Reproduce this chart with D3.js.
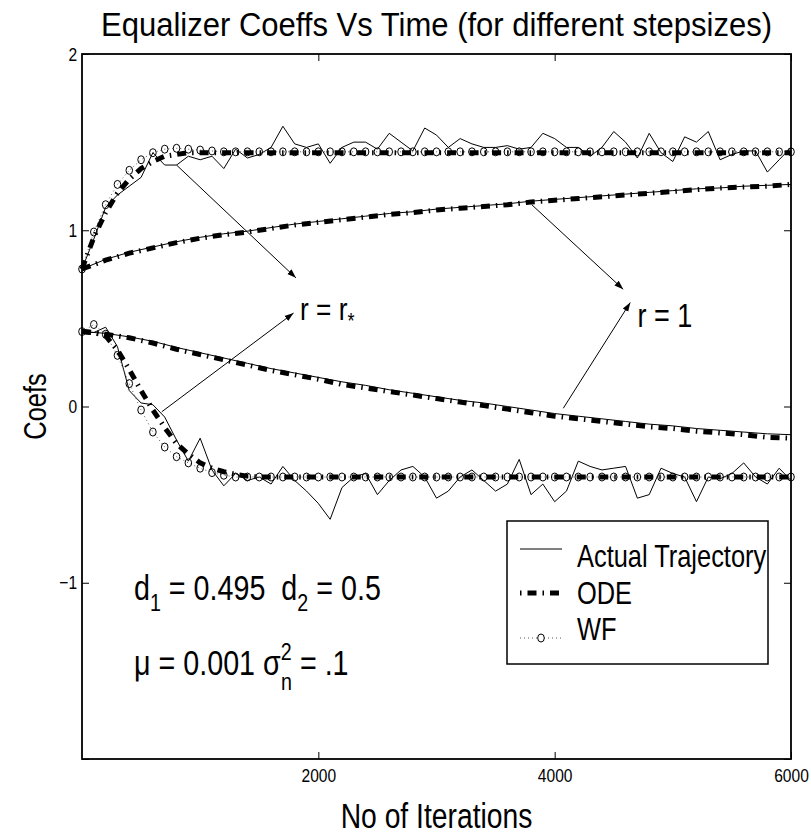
<!DOCTYPE html>
<html>
  <head>
    <meta charset="utf-8">
    <title>Equalizer Coeffs Vs Time</title>
    <style>
      body { margin: 0; background: #fff; }
      svg text { font-family: "Liberation Sans", Arial, sans-serif; fill: #000; }
    </style>
  </head>
  <body>
    <div id="chart"></div>
    <script src="https://cdn.jsdelivr.net/npm/d3@7"></script>
    <script>
    // iteration grid: fast curves every 100, slow curves every 200
    var iters = d3.range(0, 6001, 100);
    var slowIters = d3.range(0, 6001, 200);

    // r = r* (fast step), upper coefficient
    var fastUpActual = [0.78, 0.95, 1.13, 1.20, 1.25, 1.30, 1.44, 1.37, 1.37, 1.42, 1.40,
                        1.42, 1.35, 1.46, 1.41, 1.43, 1.47, 1.59, 1.49, 1.47, 1.49,
                        1.38, 1.47, 1.50, 1.50, 1.46, 1.55, 1.50, 1.45, 1.58, 1.54,
                        1.47, 1.52, 1.49, 1.47, 1.47, 1.48, 1.46, 1.47, 1.55, 1.52,
                        1.47, 1.47, 1.42, 1.47, 1.56, 1.50, 1.41, 1.55, 1.44, 1.39,
                        1.53, 1.50, 1.56, 1.40, 1.43, 1.45, 1.45, 1.33, 1.40, 1.47];
    var fastUpODE = [0.78, 0.96, 1.10, 1.21, 1.29, 1.35, 1.39, 1.42, 1.43, 1.44, 1.44,
                     1.44, 1.44, 1.44, 1.44, 1.44, 1.44, 1.44, 1.44, 1.44, 1.44,
                     1.44, 1.44, 1.44, 1.44, 1.44, 1.44, 1.44, 1.44, 1.44, 1.44,
                     1.44, 1.44, 1.44, 1.44, 1.44, 1.44, 1.44, 1.44, 1.44, 1.44,
                     1.44, 1.44, 1.44, 1.44, 1.44, 1.44, 1.44, 1.44, 1.44, 1.44,
                     1.44, 1.44, 1.44, 1.44, 1.44, 1.44, 1.44, 1.44, 1.44, 1.44];
    var fastUpWF = [0.78, 0.99, 1.145, 1.26, 1.34, 1.40, 1.44, 1.46, 1.465, 1.46, 1.455,
                    1.45, 1.445, 1.445, 1.445, 1.445, 1.445, 1.445, 1.445, 1.445, 1.445,
                    1.445, 1.445, 1.445, 1.445, 1.445, 1.445, 1.445, 1.445, 1.445, 1.445,
                    1.445, 1.445, 1.445, 1.445, 1.445, 1.445, 1.445, 1.445, 1.445, 1.445,
                    1.445, 1.445, 1.445, 1.445, 1.445, 1.445, 1.445, 1.445, 1.445, 1.445,
                    1.445, 1.445, 1.445, 1.445, 1.445, 1.445, 1.445, 1.445, 1.445, 1.445];

    // r = r* (fast step), lower coefficient
    var fastLoActual = [0.425, 0.42, 0.45, 0.34, 0.09, 0.02, 0.01, -0.06, -0.19, -0.31, -0.18,
                        -0.36, -0.45, -0.38, -0.42, -0.40, -0.44, -0.34, -0.42, -0.48, -0.55,
                        -0.64, -0.46, -0.40, -0.38, -0.50, -0.42, -0.36, -0.34, -0.40, -0.52,
                        -0.48, -0.40, -0.36, -0.42, -0.48, -0.44, -0.30, -0.50, -0.44, -0.54,
                        -0.48, -0.31, -0.34, -0.36, -0.35, -0.34, -0.52, -0.50, -0.35, -0.38,
                        -0.40, -0.54, -0.40, -0.41, -0.38, -0.32, -0.40, -0.44, -0.35, -0.42];
    var fastLoODE = [0.425, 0.42, 0.40, 0.32, 0.21, 0.09, -0.02, -0.12, -0.21, -0.27, -0.32,
                     -0.35, -0.37, -0.385, -0.395, -0.40, -0.40, -0.40, -0.40, -0.40, -0.40,
                     -0.40, -0.40, -0.40, -0.40, -0.40, -0.40, -0.40, -0.40, -0.40, -0.40,
                     -0.40, -0.40, -0.40, -0.40, -0.40, -0.40, -0.40, -0.40, -0.40, -0.40,
                     -0.40, -0.40, -0.40, -0.40, -0.40, -0.40, -0.40, -0.40, -0.40, -0.40,
                     -0.40, -0.40, -0.40, -0.40, -0.40, -0.40, -0.40, -0.40, -0.40, -0.40];
    var fastLoWF = [0.425, 0.465, 0.41, 0.29, 0.13, -0.02, -0.145, -0.23, -0.285, -0.32, -0.35,
                    -0.375, -0.39, -0.40, -0.40, -0.40, -0.40, -0.40, -0.40, -0.40, -0.40,
                    -0.40, -0.40, -0.40, -0.40, -0.40, -0.40, -0.40, -0.40, -0.40, -0.40,
                    -0.40, -0.40, -0.40, -0.40, -0.40, -0.40, -0.40, -0.40, -0.40, -0.40,
                    -0.40, -0.40, -0.40, -0.40, -0.40, -0.40, -0.40, -0.40, -0.40, -0.40,
                    -0.40, -0.40, -0.40, -0.40, -0.40, -0.40, -0.40, -0.40, -0.40, -0.40];

    // r = 1 (slow step)
    var slowUpODE = [0.78, 0.83, 0.87, 0.90, 0.93, 0.955, 0.975, 0.99, 1.01, 1.03, 1.045,
                     1.06, 1.075, 1.09, 1.10, 1.115, 1.125, 1.135, 1.145, 1.16, 1.17,
                     1.18, 1.19, 1.20, 1.21, 1.22, 1.23, 1.24, 1.245, 1.25, 1.26];
    var slowUpActual = [0.78, 0.835, 0.875, 0.905, 0.935, 0.96, 0.98, 0.995, 1.015, 1.035, 1.05,
                        1.065, 1.08, 1.095, 1.105, 1.12, 1.13, 1.14, 1.15, 1.165, 1.175,
                        1.185, 1.195, 1.205, 1.215, 1.225, 1.235, 1.24, 1.25, 1.255, 1.26];
    var slowLoODE = [0.425, 0.41, 0.39, 0.36, 0.325, 0.295, 0.265, 0.235, 0.205, 0.18, 0.155,
                     0.125, 0.105, 0.085, 0.065, 0.045, 0.025, 0.005, -0.015, -0.035, -0.055,
                     -0.07, -0.085, -0.10, -0.115, -0.125, -0.14, -0.15, -0.16, -0.175, -0.18];
    var slowLoActual = [0.425, 0.415, 0.395, 0.37, 0.335, 0.305, 0.275, 0.245, 0.215, 0.19, 0.165,
                        0.14, 0.12, 0.095, 0.075, 0.055, 0.035, 0.02, 0.0, -0.02, -0.04,
                        -0.055, -0.07, -0.085, -0.10, -0.11, -0.125, -0.135, -0.145, -0.155, -0.16];

    var xTicks = [2000, 4000, 6000];
    var yTicks = [-2, -1, 0, 1, 2];
    var yTickLabels = ["", "\u22121", "0", "1", "2"];
    var legendNames = ["Actual Trajectory", "ODE", "WF"];

    // arrows: [x0, y0, x1, y1] in data units
    var arrows = [
      [800, 1.37, 1810, 0.73],
      [675, -0.03, 1790, 0.53],
      [3806, 1.145, 4580, 0.665],
      [4073, -0.01, 4640, 0.59]
    ];

    var width = 811, height = 838;
    var margin = {top: 54, right: 20, bottom: 79, left: 82};
    var squeeze = 0.82;   // the picture's lettering is narrow

    var svg = d3.select("#chart").append("svg")
        .attr("width", width)
        .attr("height", height);

    var x = d3.scaleLinear().domain([0, 6000]).range([margin.left, width - margin.right]);
    var y = d3.scaleLinear().domain([-2, 2]).range([height - margin.bottom, margin.top]);

    svg.append("defs").append("marker")
        .attr("id", "head")
        .attr("viewBox", "0 0 10 10")
        .attr("refX", 10).attr("refY", 5)
        .attr("markerWidth", 9).attr("markerHeight", 9)
        .attr("markerUnits", "userSpaceOnUse")
        .attr("orient", "auto")
      .append("path")
        .attr("d", "M0,1.5L10,5L0,8.5z")
        .attr("fill", "#000");

    // narrow text placed at (px, py)
    function ntext(px, py, size, anchor, sq) {
      return svg.append("g")
          .attr("transform", "translate(" + px + "," + py + ") scale(" + (sq || squeeze) + ",1)")
        .append("text")
          .attr("font-size", size)
          .attr("text-anchor", anchor || "start")
          .attr("xml:space", "preserve");
    }

    var line = d3.line()
        .x(function(d) { return x(d[0]); })
        .y(function(d) { return y(d[1]); });

    function pairs(xs, ys) { return xs.map(function(v, i) { return [v, ys[i]]; }); }

    function drawActual(xs, ys) {
      svg.append("path").datum(pairs(xs, ys))
          .attr("d", line).attr("fill", "none")
          .attr("stroke", "#000").attr("stroke-width", 1);
    }
    function drawODE(xs, ys) {
      svg.append("path").datum(pairs(xs, ys))
          .attr("d", line).attr("fill", "none")
          .attr("stroke", "#000").attr("stroke-width", 5)
          .attr("stroke-dasharray", "9,6,1.5,6");
    }
    function drawWF(xs, ys) {
      var pts = pairs(xs, ys);
      svg.append("path").datum(pts)
          .attr("d", line).attr("fill", "none")
          .attr("stroke", "#555").attr("stroke-width", 1)
          .attr("stroke-dasharray", "1,3");
      svg.append("g").selectAll("ellipse").data(pts).join("ellipse")
          .attr("cx", function(d) { return x(d[0]); })
          .attr("cy", function(d) { return y(d[1]); })
          .attr("rx", 3.3).attr("ry", 4)
          .attr("fill", "none").attr("stroke", "#000").attr("stroke-width", 1);
    }

    // curves
    drawActual(iters, fastUpActual);
    drawActual(iters, fastLoActual);
    drawActual(slowIters, slowUpActual);
    drawActual(slowIters, slowLoActual);
    drawWF(iters, fastUpWF);
    drawWF(iters, fastLoWF);
    drawODE(iters, fastUpODE);
    drawODE(iters, fastLoODE);
    drawODE(slowIters, slowUpODE);
    drawODE(slowIters, slowLoODE);

    // axes box
    svg.append("rect")
        .attr("x", x(0)).attr("y", y(2))
        .attr("width", x(6000) - x(0)).attr("height", y(-2) - y(2))
        .attr("fill", "none").attr("stroke", "#000").attr("stroke-width", 1.8);

    var xAxis = d3.axisBottom(x).tickValues(xTicks).tickSizeInner(-7).tickSizeOuter(0)
        .tickPadding(10).tickFormat(d3.format("d"));
    var gx = svg.append("g").attr("transform", "translate(0," + y(-2) + ")").call(xAxis);
    gx.select(".domain").remove();
    gx.selectAll("text").attr("font-size", 19).style("font-family", null)
        .attr("transform", "scale(" + squeeze + ",1)");

    svg.append("g").attr("transform", "translate(0," + y(2) + ")")
        .call(d3.axisTop(x).tickValues(xTicks).tickSizeInner(-7).tickSizeOuter(0).tickFormat(""))
        .select(".domain").remove();

    var yAxis = d3.axisLeft(y).tickValues(yTicks).tickSizeInner(-7).tickSizeOuter(0).tickPadding(6)
        .tickFormat(function(d, i) { return yTickLabels[i]; });
    var gy = svg.append("g").attr("transform", "translate(" + x(0) + ",0)").call(yAxis);
    gy.select(".domain").remove();
    gy.selectAll("text").attr("font-size", 19).style("font-family", null)
        .attr("transform", "scale(" + squeeze + ",1)");

    svg.append("g").attr("transform", "translate(" + x(6000) + ",0)")
        .call(d3.axisRight(y).tickValues(yTicks).tickSizeInner(-7).tickSizeOuter(0).tickFormat(""))
        .select(".domain").remove();

    // titles
    ntext((x(0) + x(6000)) / 2, 36, 33, "middle", 0.94)
        .text("Equalizer Coeffs Vs Time (for different stepsizes)");
    ntext((x(0) + x(6000)) / 2, 828, 34.5, "middle").text("No of Iterations");
    svg.append("g")
        .attr("transform", "translate(46," + y(0) + ") rotate(-90) scale(" + squeeze + ",1)")
      .append("text")
        .attr("text-anchor", "middle").attr("font-size", 31)
        .text("Coefs");

    // arrows
    svg.append("g").selectAll("line").data(arrows).join("line")
        .attr("x1", function(d) { return x(d[0]); })
        .attr("y1", function(d) { return y(d[1]); })
        .attr("x2", function(d) { return x(d[2]); })
        .attr("y2", function(d) { return y(d[3]); })
        .attr("stroke", "#000").attr("stroke-width", 1)
        .attr("marker-end", "url(#head)");

    // annotations
    var t1 = ntext(x(1845), y(0.49), 32);
    t1.append("tspan").text("r = r");
    t1.append("tspan").attr("font-size", 22).attr("dy", 8).text("*");

    ntext(x(4700), y(0.45), 33).text("r = 1");

    var t2 = ntext(134, 600, 35);
    t2.append("tspan").text("d");
    t2.append("tspan").attr("font-size", 24).attr("dy", 11).text("1");
    t2.append("tspan").attr("dy", -11).text(" = 0.495  d");
    t2.append("tspan").attr("font-size", 24).attr("dy", 11).text("2");
    t2.append("tspan").attr("dy", -11).text(" = 0.5");

    var t3 = ntext(134, 675, 35);
    t3.append("tspan").text("\u03bc = 0.001 \u03c3");
    t3.append("tspan").attr("font-size", 24).attr("dy", -15).text("2");
    t3.append("tspan").attr("font-size", 24).attr("dx", -13).attr("dy", 30).text("n");
    t3.append("tspan").attr("dy", -15).text(" = .1");

    // legend
    var lg = svg.append("g");
    lg.append("rect").attr("x", 507).attr("y", 521).attr("width", 261).attr("height", 143)
        .attr("fill", "#fff").attr("stroke", "#000").attr("stroke-width", 1.5);
    var rowY = [549, 593, 638];
    var textY = [567, 604, 640];
    legendNames.forEach(function(name, i) {
      ntext(577, textY[i], 31).text(name);
    });
    lg.append("line").attr("x1", 520).attr("x2", 562).attr("y1", rowY[0]).attr("y2", rowY[0])
        .attr("stroke", "#000").attr("stroke-width", 1);
    lg.append("line").attr("x1", 520).attr("x2", 562).attr("y1", rowY[1]).attr("y2", rowY[1])
        .attr("stroke", "#000").attr("stroke-width", 5).attr("stroke-dasharray", "1.5,6,9,6");
    lg.append("line").attr("x1", 520).attr("x2", 562).attr("y1", rowY[2]).attr("y2", rowY[2])
        .attr("stroke", "#555").attr("stroke-width", 1).attr("stroke-dasharray", "1,3");
    lg.append("ellipse").attr("cx", 541).attr("cy", rowY[2]).attr("rx", 3.3).attr("ry", 4)
        .attr("fill", "#fff").attr("stroke", "#000");
    </script>
  </body>
</html>
